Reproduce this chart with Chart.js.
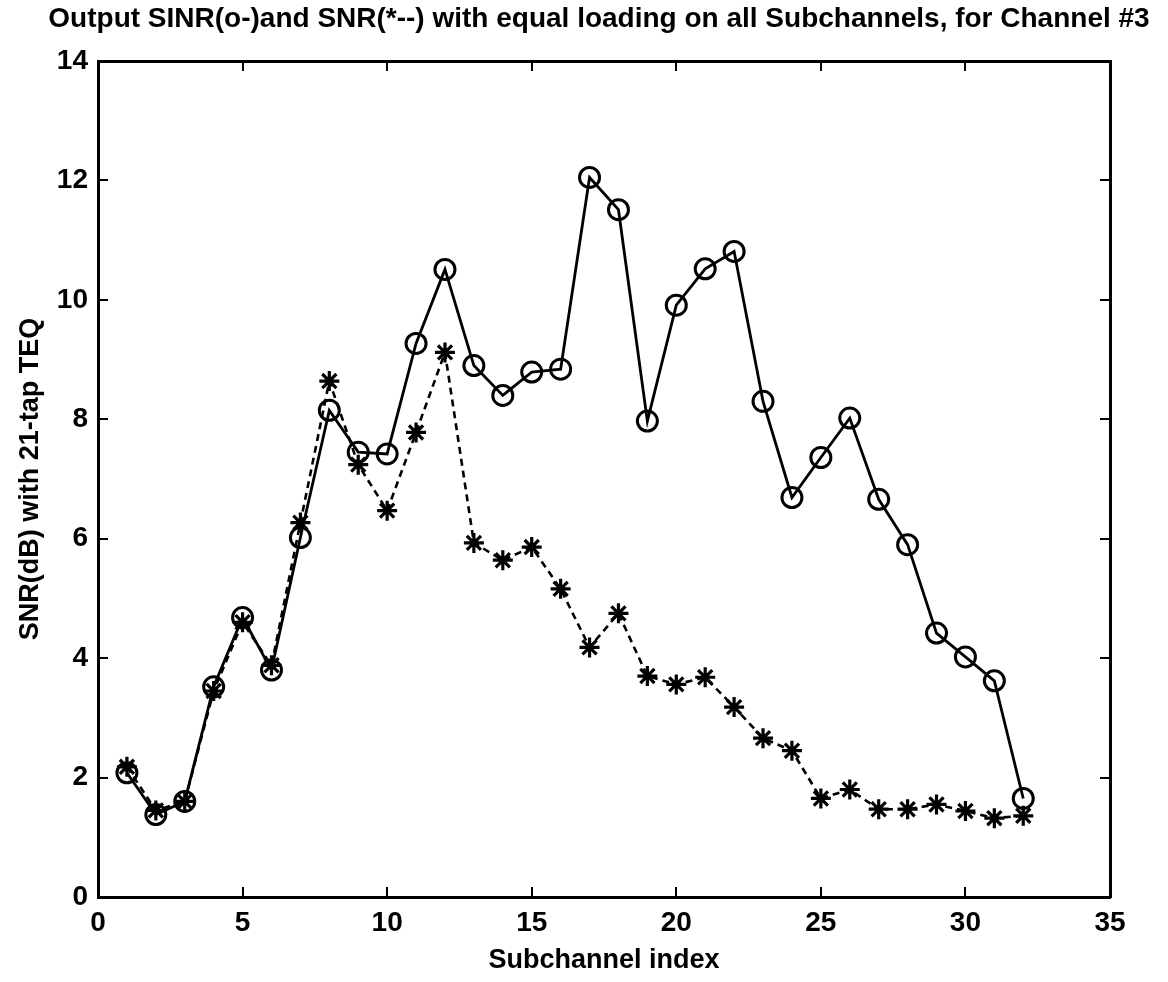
<!DOCTYPE html>
<html><head><meta charset="utf-8">
<script src="https://cdn.jsdelivr.net/npm/chart.js@4/dist/chart.umd.min.js"></script>
<style>html,body{margin:0;padding:0;background:#fff;}canvas{display:block;}</style>
</head><body>
<canvas id="c" width="1168" height="982"></canvas>
<script>
const subchannels = [1,2,3,4,5,6,7,8,9,10,11,12,13,14,15,16,17,18,19,20,21,22,23,24,25,26,27,28,29,30,31,32];
const sinrValues = [2.08,1.38,1.6,3.52,4.68,3.8,6.02,8.15,7.45,7.42,9.27,10.51,8.9,8.4,8.79,8.84,12.05,11.51,7.97,9.91,10.52,10.81,8.3,6.69,7.36,8.02,6.66,5.9,4.42,4.02,3.62,1.65];
const snrValues = [2.18,1.45,1.6,3.45,4.6,3.88,6.27,8.64,7.24,6.47,7.78,9.12,5.93,5.64,5.86,5.16,4.18,4.75,3.7,3.56,3.68,3.18,2.66,2.45,1.65,1.8,1.47,1.47,1.55,1.44,1.32,1.36];
const xTicks = [0,5,10,15,20,25,30,35];
const yTicks = [0,2,4,6,8,10,12,14];

const FONT = "'Liberation Sans', Arial, sans-serif";
const toPoints = vals => vals.map((v, i) => ({x: subchannels[i], y: v}));
const setTicks = list => s => { s.ticks = list.map(v => ({value: v})); };
const fixW = w => s => { s.width = w; };
const fixH = h => s => { s.height = h; };
const gridInward = {drawOnChartArea: false, drawTicks: true, tickLength: -10, color: '#000', lineWidth: 2};
const borderStyle = {display: true, color: '#000', width: 3};
const tickFont = {family: FONT, size: 28, weight: 'bold'};
const labelFont = {family: FONT, size: 27, weight: 'bold'};
const titleFont = {family: FONT, size: 28, weight: 'bold'};

new Chart(document.getElementById('c'), {
  type: 'line',
  data: {
    datasets: [
      {
        label: 'SINR', data: toPoints(sinrValues),
        borderColor: '#000', backgroundColor: 'rgba(0,0,0,0)', borderWidth: 2.8,
        pointStyle: 'circle', pointRadius: 10, pointBorderWidth: 3,
        pointBackgroundColor: 'rgba(0,0,0,0)', pointBorderColor: '#000', tension: 0, fill: false
      },
      {
        label: 'SNR', data: toPoints(snrValues),
        borderColor: '#000', backgroundColor: 'rgba(0,0,0,0)', borderWidth: 2.6, borderDash: [7, 5],
        pointStyle: 'star', pointRadius: 10, pointBorderWidth: 3.2,
        pointBackgroundColor: '#000', pointBorderColor: '#000', tension: 0, fill: false
      }
    ]
  },
  options: {
    responsive: false, animation: false, devicePixelRatio: 1,
    layout: {padding: {left: 30, right: 0, top: 0, bottom: 0}},
    plugins: {
      legend: {display: false}, tooltip: {enabled: false},
      title: {
        display: true, fullSize: true,
        text: 'Output SINR(o-)and SNR(*--) with equal loading on all Subchannels, for Channel #3',
        color: '#000', font: titleFont,
        padding: {top: 2.2, bottom: 25.2}
      }
    },
    scales: {
      x: {
        type: 'linear', position: 'bottom', min: 0, max: 35,
        afterBuildTicks: setTicks(xTicks),
        ticks: {color: '#000', font: tickFont, padding: 19, maxRotation: 0, autoSkip: false},
        grid: gridInward, border: borderStyle,
        title: {display: true, text: 'Subchannel index', color: '#000', font: labelFont, padding: {top: 0, bottom: 5}},
        afterFit: fixH(85)
      },
      xTop: {
        type: 'linear', position: 'top', min: 0, max: 35,
        afterBuildTicks: setTicks(xTicks),
        ticks: {display: false}, grid: gridInward, border: borderStyle,
        afterFit: fixH(0)
      },
      y: {
        type: 'linear', position: 'left', min: 0, max: 14,
        afterBuildTicks: setTicks(yTicks),
        ticks: {color: '#000', font: tickFont, padding: 20, autoSkip: false},
        grid: gridInward, border: borderStyle,
        title: {display: true, text: 'SNR(dB) with 21-tap TEQ', color: '#000', font: labelFont, padding: {top: -16, bottom: 0}},
        afterFit: fixW(68)
      },
      yRight: {
        type: 'linear', position: 'right', min: 0, max: 14,
        afterBuildTicks: setTicks(yTicks),
        ticks: {display: false}, grid: gridInward, border: borderStyle,
        afterFit: fixW(58)
      }
    }
  }
});
</script>
</body></html>
